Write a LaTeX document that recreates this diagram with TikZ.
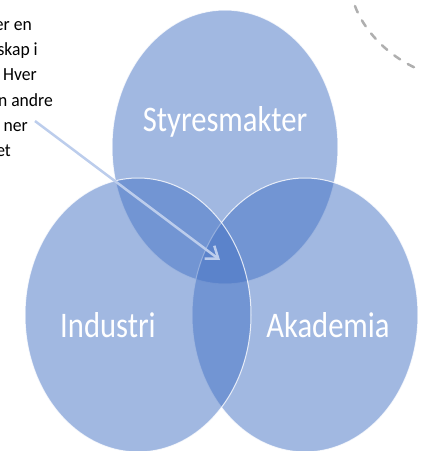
\documentclass[tikz,border=0pt]{standalone}
\usepackage{fontspec}
\setmainfont{Carlito}
\usetikzlibrary{arrows.meta}
\definecolor{accent}{RGB}{68,114,196}
\definecolor{arrowc}{RGB}{188,205,236}
\definecolor{dashc}{RGB}{175,175,175}
\newcommand{\narrow}[1]{\scalebox{0.85}[1]{#1}}
\tikzset{
  venn/.style={fill=accent, fill opacity=0.5, draw=white, draw opacity=0.8, line width=1pt},
  vlabel/.style={text=white, font=\fontsize{36}{42}\selectfont},
  sidetext/.style={anchor=base east, inner sep=0pt, text=black, font=\fontsize{18.5}{22}\selectfont},
}
\begin{document}
\begin{tikzpicture}[x=1pt,y=-1pt]
\useasboundingbox (0,0) rectangle (424,451);
\begin{scope}
\clip (0,0) rectangle (424,451);
% ellipses
\path[venn] (225,147) ellipse [x radius=113pt, y radius=137pt];
\path[venn] (305,315) ellipse [x radius=113pt, y radius=137pt];
\path[venn] (138,315) ellipse [x radius=113pt, y radius=137pt];
% labels
\node[vlabel] (sty) at (225,122) {\narrow{Styresmakter}};
\node[vlabel] (ind) at (108,325) {\narrow{Industri}};
\node[vlabel] (aka) at (328,325) {\narrow{Akademia}};
% side text fragments
\node[sidetext] (t1) at (32,30) {\scalebox{0.95}[1]{er en}};
\node[sidetext] (t2) at (38,55) {\scalebox{0.95}[1]{skap i}};
\node[sidetext] (t3) at (37,80) {\scalebox{0.95}[1]{Hver}};
\node[sidetext] (t4) at (53,106) {\scalebox{0.95}[1]{n andre}};
\node[sidetext] (t5) at (28,131) {\scalebox{0.95}[1]{ner}};
\node[sidetext] (t6) at (11,156) {\scalebox{0.95}[1]{et}};
% arrow
\coordinate (as) at (35,121);
\coordinate (ae) at (220,260);
\draw[arrowc, line width=2.5pt, -{Straight Barb[length=11pt, width=16pt, line width=2.5pt]}] (as) -- (ae);
% dashed arc
\coordinate (d0) at (355,6);
\coordinate (d1) at (420,70);
\draw[dashc, line width=2.5pt, line cap=round, dash pattern=on 7pt off 9pt] (d0) .. controls (363,28) and (385,55) .. (d1);
\end{scope}
\end{tikzpicture}
\end{document}
